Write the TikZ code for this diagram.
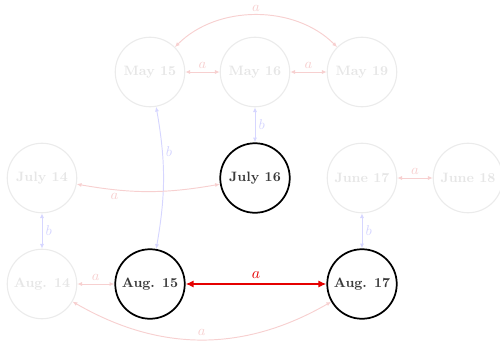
\documentclass[tikz,border=0pt]{standalone}
\usetikzlibrary{arrows.meta}
\definecolor{fred}{HTML}{F7D0D0}
\definecolor{fblue}{HTML}{D6D6FF}
\definecolor{fgray}{HTML}{EBEBEB}
\definecolor{ftext}{HTML}{E6E6E6}
\definecolor{dtext}{HTML}{3A3A3A}
\tikzset{
  st/.style={circle, draw=black, line width=1.1pt, minimum size=44pt, inner sep=0pt, font=\fontsize{8.6}{10}\selectfont\bfseries, text=dtext},
  fst/.style={circle, draw=fgray, line width=0.7pt, minimum size=44pt, inner sep=0pt, font=\fontsize{8.6}{10}\selectfont\bfseries, text=ftext},
  fa/.style={{Latex[length=3pt,width=2.6pt]}-{Latex[length=3pt,width=2.6pt]}, draw=fred, line width=0.6pt},
  fb/.style={{Latex[length=3pt,width=2.6pt]}-{Latex[length=3pt,width=2.6pt]}, draw=fblue, line width=0.6pt},
  la/.style={text=fred, font=\small, inner sep=2pt},
  lb/.style={text=fblue, font=\small, inner sep=2pt},
  ma/.style={{Latex[length=5pt,width=4.5pt]}-{Latex[length=5pt,width=4.5pt]}, draw=red!90!black, line width=1.1pt}
}
\begin{document}
\begin{tikzpicture}[x=0.633pt,y=0.633pt]
\useasboundingbox (0,0) rectangle (500,341);
\node[fst] (m15) at (150,269) {May 15};
\node[fst] (m16) at (255,269) {May 16};
\node[fst] (m19) at (362,269) {May 19};
\node[fst] (j14) at (42,163) {July 14};
\node[st]  (j16) at (255,163) {July 16};
\node[fst] (n17) at (362,163) {June 17};
\node[fst] (n18) at (468,163) {June 18};
\node[fst] (a14) at (42,57) {Aug. 14};
\node[st]  (a15) at (150,57) {Aug. 15};
\node[st]  (a17) at (362,57) {Aug. 17};

\draw[fa] (m15) to[bend left=45, looseness=0.95] node[midway, above, la] {$a$} (m19);
\draw[fa] (m15) -- node[above, la] {$a$} (m16);
\draw[fa] (m16) -- node[above, la] {$a$} (m19);
\draw[fb] (m16) -- node[right, lb] {$b$} (j16);
\draw[fb] (m15) to[bend left=10] node[pos=0.3, right, lb] {$b$} (a15);
\draw[fa] (j14) to[bend right=10] node[pos=0.25, below, la] {$a$} (j16);
\draw[fa] (n17) -- node[above, la] {$a$} (n18);
\draw[fb] (j14) -- node[right, lb] {$b$} (a14);
\draw[fb] (n17) -- node[right, lb] {$b$} (a17);
\draw[fa] (a14) -- node[above, la] {$a$} (a15);
\draw[fa] (a14) to[bend right=30, looseness=1.0] node[midway, above, la] {$a$} (a17);
\draw[ma] (a15) -- node[above, text=red!90!black, inner sep=3pt] {$a$} (a17);
\end{tikzpicture}
\end{document}
